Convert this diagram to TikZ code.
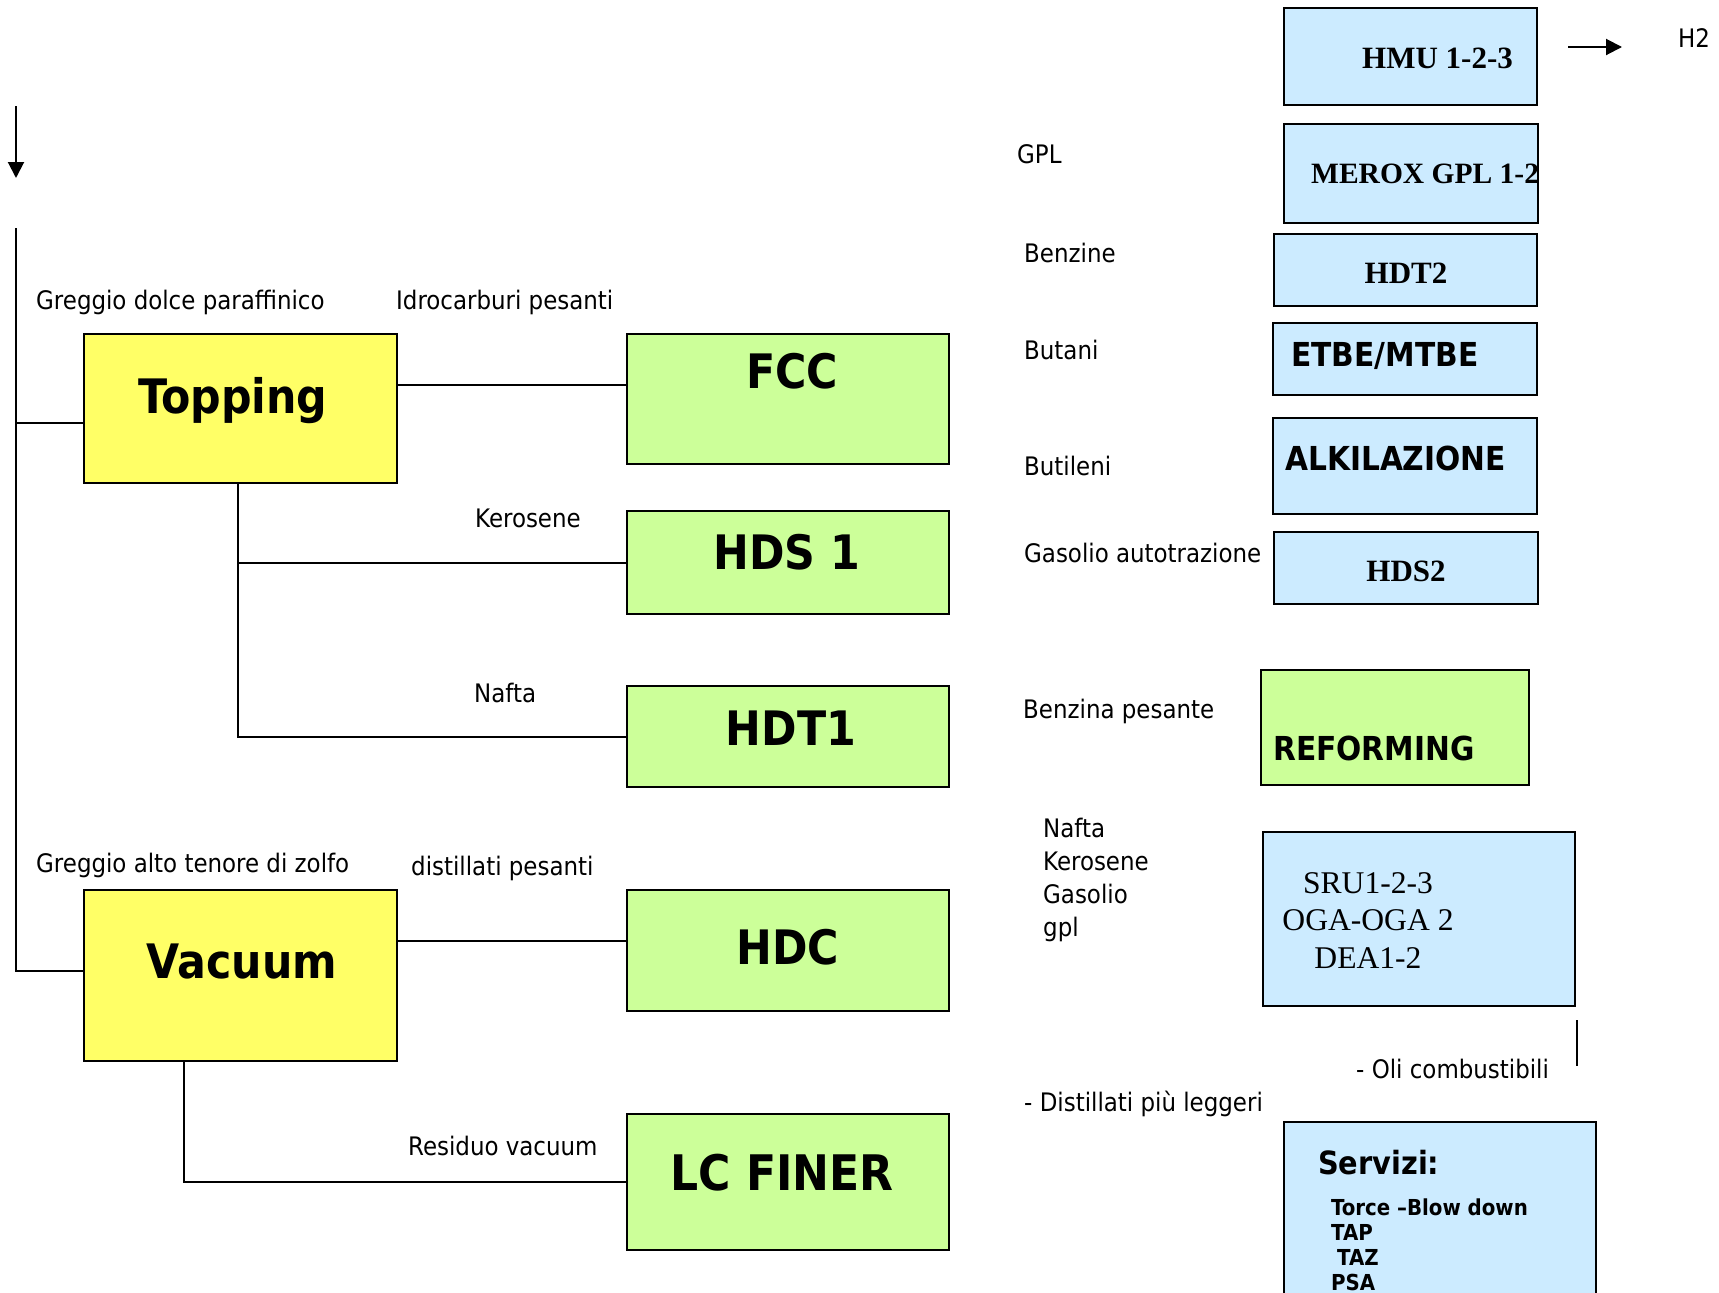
\documentclass[tikz,border=0pt]{standalone}
\usepackage{fontspec}
\setmainfont{DejaVu Sans Condensed}
\newfontfamily\timesfam{Liberation Serif}
\usetikzlibrary{arrows.meta}

\definecolor{crudeyellow}{HTML}{FFFF66}
\definecolor{convgreen}{HTML}{CCFF99}
\definecolor{auxblue}{HTML}{CCEBFF}

\tikzset{
  unit/.style={draw, line width=1.9pt, inner sep=0pt},
  crude/.style={unit, fill=crudeyellow},
  conv/.style={unit, fill=convgreen},
  aux/.style={unit, fill=auxblue},
  pipe/.style={line width=2pt},
  flow/.style={pipe, -{Triangle[width=16pt,length=16pt]}},
  stream/.style={inner sep=0pt, anchor=base west, font=\fontsize{25.5}{30}\selectfont},
  big/.style={inner sep=0pt, anchor=base, font=\fontsize{47.5}{56}\selectfont\bfseries},
  mid/.style={inner sep=0pt, anchor=base west, font=\fontsize{33}{40}\selectfont\bfseries},
  small/.style={inner sep=0pt, anchor=base west, font=\fontsize{22}{26}\selectfont\bfseries},
  tms/.style={inner sep=0pt, anchor=base, font=\timesfam\fontsize{31}{37}\selectfont\bfseries},
  tmsplain/.style={inner sep=0pt, anchor=base, font=\timesfam\fontsize{31.6}{37}\selectfont},
}

\begin{document}
\begin{tikzpicture}[x=1pt, y=-1pt]
  \useasboundingbox (0,0) rectangle (1719,1293);

  % crude units
  \node[crude, minimum width=313, minimum height=149] (topping) at (240.5,408.5) {};
  \node[crude, minimum width=313, minimum height=171] (vacuum) at (240.5,975.5) {};
  \node[big] (topping-t) at (233,413) {Topping};
  \node[big] (vacuum-t) at (242,978) {Vacuum};

  % conversion units
  \node[conv, minimum width=322, minimum height=130] (fcc) at (788,399) {};
  \node[conv, minimum width=322, minimum height=103] (hds1) at (788,562.5) {};
  \node[conv, minimum width=322, minimum height=101] (hdt1) at (788,736.5) {};
  \node[conv, minimum width=322, minimum height=121] (hdc) at (788,950.5) {};
  \node[conv, minimum width=322, minimum height=136] (lcfiner) at (788,1182) {};
  \node[big] (fcc-t) at (792,388) {FCC};
  \node[big] (hds1-t) at (787,569) {HDS 1};
  \node[big] (hdt1-t) at (791,745) {HDT1};
  \node[big] (hdc-t) at (788,964) {HDC};
  \node[big, font=\fontsize{49}{56}\selectfont\bfseries] (lcfiner-t) at (782,1190) {LC FINER};

  % auxiliary units
  \node[aux, minimum width=253, minimum height=97] (hmu) at (1410.5,56.5) {};
  \node[aux, minimum width=254, minimum height=99] (merox) at (1411,173.5) {};
  \node[aux, minimum width=263, minimum height=72] (hdt2) at (1405.5,270) {};
  \node[aux, minimum width=264, minimum height=72] (etbe) at (1405,359) {};
  \node[aux, minimum width=264, minimum height=96] (alk) at (1405,466) {};
  \node[aux, minimum width=264, minimum height=72] (hds2) at (1406,568) {};
  \node[conv, minimum width=268, minimum height=115] (reforming) at (1395,727.5) {};
  \node[aux, minimum width=312, minimum height=174] (sru) at (1419,919) {};
  \node[aux, minimum width=312, minimum height=200] (servizi) at (1440,1222) {};

  \node[tms] (hmu-t) at (1437.5,68) {HMU 1-2-3};
  \node[tms, anchor=base west, font=\timesfam\fontsize{29.5}{37}\selectfont\bfseries] (merox-t) at (1311,183) {MEROX GPL 1-2};
  \node[tms] (hdt2-t) at (1406,283) {HDT2};
  \node[mid] (etbe-t) at (1291,366) {ETBE/MTBE};
  \node[mid] (alk-t) at (1285,470) {ALKILAZIONE};
  \node[tms] (hds2-t) at (1406,581) {HDS2};
  \node[mid] (reforming-t) at (1273,760) {REFORMING};
  \foreach \txt/\yy [count=\i] in {SRU1-2-3/893, OGA-OGA 2/930, DEA1-2/968}
    \node[tmsplain] (sru-\i) at (1368,\yy) {\txt};
  \node[mid, font=\fontsize{32}{38}\selectfont\bfseries] (servizi-t) at (1318,1174) {Servizi:};
  \foreach \txt [count=\i] in {Torce –Blow down, TAP, \hspace*{6pt}TAZ, PSA}
    \node[small] (serv-\i) at (1331,1190+25*\i) {\txt};

  % streams
  \node[stream] (s-dolce) at (36,309) {Greggio dolce paraffinico};
  \node[stream] (s-idro) at (396,309) {Idrocarburi pesanti};
  \node[stream] (s-kero) at (475,527) {Kerosene};
  \node[stream] (s-nafta) at (474,702) {Nafta};
  \node[stream] (s-zolfo) at (36,872) {Greggio alto tenore di zolfo};
  \node[stream] (s-dist) at (411,875) {distillati pesanti};
  \node[stream] (s-res) at (408,1155) {Residuo vacuum};
  \node[stream] (s-h2) at (1678,47) {H2};
  \node[stream] (s-gpl) at (1017,163) {GPL};
  \node[stream] (s-benz) at (1024,262) {Benzine};
  \node[stream] (s-butani) at (1024,359) {Butani};
  \node[stream] (s-butileni) at (1024,475) {Butileni};
  \node[stream] (s-gasolio) at (1024,562) {Gasolio autotrazione};
  \node[stream] (s-benzp) at (1023,718) {Benzina pesante};
  \foreach \txt [count=\i] in {Nafta, Kerosene, Gasolio, gpl}
    \node[stream] (s-sru\i) at (1043,804+33*\i) {\txt};
  \node[stream] (s-oli) at (1356,1078) {- Oli combustibili};
  \node[stream] (s-legg) at (1024,1111) {- Distillati più leggeri};

  % connectors
  \coordinate (feed-a) at (16,106);
  \coordinate (feed-b) at (16,178);
  \coordinate (trunk) at (16,228);
  \coordinate (h2-a) at (1568,47);
  \coordinate (h2-b) at (1622,47);
  \coordinate (oli-a) at (1577,1020);
  \coordinate (oli-b) at (1577,1066);

  \draw[flow] (feed-a) -- (feed-b);
  \draw[flow] (h2-a) -- (h2-b);
  \draw[pipe] (oli-a) -- (oli-b);
  \draw[pipe] (trunk) |- (topping.west |- 0,423);
  \draw[pipe] (trunk) |- (vacuum.west |- 0,971);
  \draw[pipe] (topping.east |- 0,385) -- (fcc.west |- 0,385);
  \draw[pipe] (topping.south -| 238,0) |- (hds1.west);
  \draw[pipe] (topping.south -| 238,0) |- (hdt1.west);
  \draw[pipe] (vacuum.east |- 0,941) -- (hdc.west |- 0,941);
  \draw[pipe] (vacuum.south -| 184,0) |- (lcfiner.west);
\end{tikzpicture}
\end{document}
